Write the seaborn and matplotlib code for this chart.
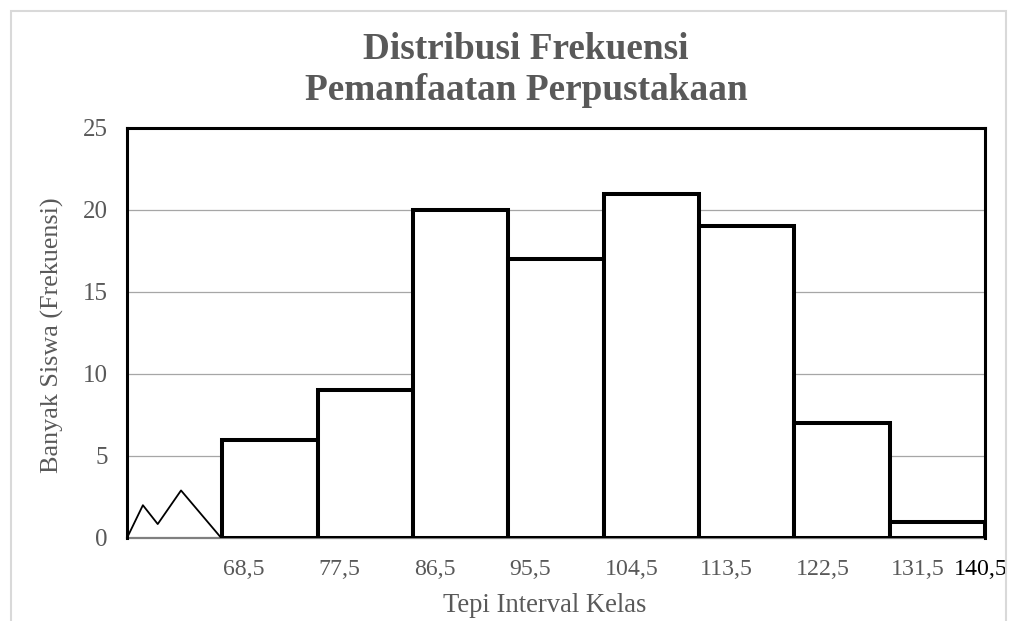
import numpy as np
import pandas as pd
import seaborn as sns
import matplotlib.pyplot as plt
from matplotlib.patches import Rectangle
from matplotlib.ticker import FixedLocator

# data histogram (tepi kelas + frekuensi)
tepi = [68.5, 77.5, 86.5, 95.5, 104.5, 113.5, 122.5, 131.5, 140.5]
frekuensi = [6, 9, 20, 17, 21, 19, 7, 1]
label_tepi = ["68,5", "77,5", "86,5", "95,5", "104,5", "113,5", "122,5", "131,5"]
label_akhir = "140,5"

# tanda patahan sumbu (zigzag) di kelas kosong paling kiri
zig_x = [59.5, 61.0, 62.4, 64.6, 68.4]
zig_y = [0, 2, 0.85, 2.9, 0]

titik_tengah = [(tepi[i] + tepi[i + 1]) / 2 for i in range(len(frekuensi))]
df = pd.DataFrame({"nilai": titik_tengah, "frek": frekuensi})

sns.set_style("white")
plt.rcParams["font.family"] = ["Liberation Serif", "DejaVu Serif"]
abu = "#595959"

W, H = 1009, 621
fig = plt.figure(figsize=(W / 100, H / 100), dpi=100)
ax = fig.add_axes([127 / W, 83 / H, 858 / W, 410 / H])

# garis grid di belakang batang
for yv in [5, 10, 15, 20]:
    ax.axhline(yv, color="#a6a6a6", linewidth=0.9, zorder=0)

sns.histplot(data=df, x="nilai", weights="frek", bins=tepi, color="white",
             edgecolor="black", linewidth=2.9, alpha=1, ax=ax, zorder=2)

ax.plot(zig_x, zig_y, color="black", linewidth=1.3, zorder=3)

ax.set_xlim(59.5, 140.5)
ax.set_ylim(0, 25)
ax.set_yticks([0, 5, 10, 15, 20, 25])
ax.tick_params(axis="y", length=0, pad=14, labelsize=18, labelcolor=abu)

# tick kecil di batas kelas, label rata kiri di batas kelas
ax.xaxis.set_major_locator(FixedLocator(tepi[:-1]))
ax.set_xticklabels([])
ax.tick_params(axis="x", which="major", length=3, width=1, color=abu, direction="out")
y_lab = -(575 - 538) / 410
for t, lab in zip(tepi[:-1], label_tepi):
    ax.text(t + 0.1, y_lab, lab, transform=ax.get_xaxis_transform(), ha="left",
            va="baseline", fontsize=17.2, color=abu)
ax.text(137.6, y_lab, label_akhir, transform=ax.get_xaxis_transform(), ha="left",
        va="baseline", fontsize=17.2, color="black")

ax.set_xlabel("")
ax.set_ylabel("")
for s in ["left", "top", "right"]:
    ax.spines[s].set_color("black")
    ax.spines[s].set_linewidth(2.2)
ax.spines["bottom"].set_color("#7f7f7f")
ax.spines["bottom"].set_linewidth(1.6)
ax.spines["bottom"].set_zorder(1)

fig.text(526 / W, 1 - 59 / H, "Distribusi Frekuensi", ha="center", va="baseline",
         fontsize=26.8, fontweight="bold", color=abu)
fig.text(526.5 / W, 1 - 100 / H, "Pemanfaatan Perpustakaan", ha="center",
         va="baseline", fontsize=26.8, fontweight="bold", color=abu)
fig.text(52 / W, 1 - 335 / H, "Banyak Siswa (Frekuensi)", rotation=90,
         ha="center", va="center", fontsize=18.8, color=abu)
fig.text(545 / W, 1 - 612 / H, "Tepi Interval Kelas", ha="center",
         va="baseline", fontsize=19.2, color=abu)

# bingkai luar grafik
fig.patches.append(Rectangle((11 / W, -0.05), 995 / W, 1.05 - 11 / H,
                             transform=fig.transFigure, fill=False,
                             edgecolor="#d9d9d9", linewidth=1.5))

fig.savefig("out.png", dpi=100)
